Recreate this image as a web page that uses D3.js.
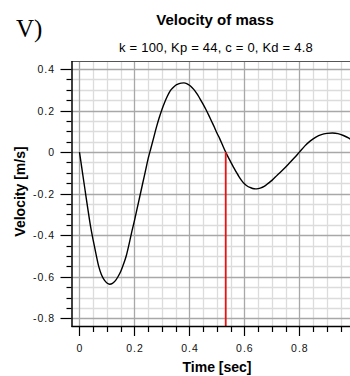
<!DOCTYPE html>
<html><head><meta charset="utf-8">
<script src="https://cdn.jsdelivr.net/npm/d3@7"></script>
<style>body{margin:0;background:#fff;} svg{display:block;}</style>
</head><body>
<script>
const timeSec = [0,0.01,0.02,0.03,0.04,0.05,0.06,0.07,0.08,0.09,0.10,0.11,0.12,0.13,0.14,0.15,0.16,0.17,0.18,0.19,0.20,0.21,0.22,0.23,0.24,0.25,0.26,0.27,0.28,0.29,0.30,0.31,0.32,0.33,0.34,0.35,0.36,0.37,0.38,0.39,0.40,0.41,0.42,0.43,0.44,0.45,0.46,0.47,0.48,0.49,0.50,0.51,0.52,0.53,0.54,0.55,0.56,0.57,0.58,0.59,0.60,0.61,0.62,0.63,0.64,0.65,0.66,0.67,0.68,0.69,0.70,0.72,0.74,0.76,0.78,0.80,0.82,0.84,0.86,0.88,0.90,0.92,0.94,0.96,0.98,1.00];
const velocity = [0,-0.09,-0.18,-0.27,-0.355,-0.425,-0.49,-0.55,-0.59,-0.615,-0.63,-0.636,-0.632,-0.62,-0.60,-0.575,-0.54,-0.50,-0.445,-0.385,-0.33,-0.27,-0.21,-0.15,-0.09,-0.03,0.02,0.07,0.12,0.165,0.205,0.24,0.27,0.295,0.31,0.322,0.328,0.332,0.333,0.33,0.322,0.31,0.295,0.275,0.253,0.23,0.205,0.178,0.15,0.122,0.092,0.065,0.035,0.005,-0.022,-0.047,-0.072,-0.095,-0.118,-0.137,-0.152,-0.163,-0.17,-0.175,-0.177,-0.176,-0.172,-0.166,-0.157,-0.147,-0.136,-0.11,-0.085,-0.058,-0.03,0.0,0.03,0.054,0.072,0.084,0.09,0.092,0.089,0.08,0.067,0.05];
const xTicks = [0,0.2,0.4,0.6,0.8];
const xTickLabels = ["0","0.2","0.4","0.6","0.8"];
const yTicks = [0.4,0.2,0,-0.2,-0.4,-0.6,-0.8];
const yTickLabels = ["0.4","0.2","0","-0.2","-0.4","-0.6","-0.8"];
const markerTime = [0.532];
const titleText = "Velocity of mass";
const subtitleText = "k = 100, Kp = 44, c = 0, Kd = 4.8";
const panelLabel = "V)";
const xLabel = "Time [sec]";
const yLabel = "Velocity [m/s]";

const W = 350, H = 376;
const L = 71.5, T = 61, R = 350, B = 326;
const svg = d3.select("body").append("svg").attr("width", W).attr("height", H);

const x = d3.scaleLinear().domain([-0.029, 0.984]).range([L, R]);
const y = d3.scaleLinear().domain([-0.837, 0.4385]).range([B, T]);

const font = "'Liberation Sans', Arial, sans-serif";

svg.append("clipPath").attr("id","plot").append("rect").attr("x",L).attr("y",T).attr("width",R-L).attr("height",B-T);

const grid = svg.append("g").attr("clip-path","url(#plot)");
const xMinor = d3.range(0, 1.0001, 0.05).map(v=>+v.toFixed(2));
const yMinor = d3.range(-0.8, 0.4001, 0.05).map(v=>+v.toFixed(2));
const isMajor = v => Math.abs(Math.round(v/0.2)*0.2 - v) < 1e-6;
grid.selectAll(".vx").data(xMinor.filter(v=>!isMajor(v))).join("line")
  .attr("x1",d=>Math.round(x(d))+0.5).attr("x2",d=>Math.round(x(d))+0.5).attr("y1",T).attr("y2",B)
  .attr("stroke","#dcdcdc").attr("stroke-width",1.3);
grid.selectAll(".hy").data(yMinor.filter(v=>!isMajor(v))).join("line")
  .attr("y1",d=>Math.round(y(d))+0.5).attr("y2",d=>Math.round(y(d))+0.5).attr("x1",L).attr("x2",R)
  .attr("stroke","#dcdcdc").attr("stroke-width",1.3);
grid.selectAll(".vX").data(xMinor.filter(isMajor)).join("line")
  .attr("x1",d=>Math.round(x(d))+0.5).attr("x2",d=>Math.round(x(d))+0.5).attr("y1",T).attr("y2",B)
  .attr("stroke","#a8a8a8").attr("stroke-width",1.3);
grid.selectAll(".hY").data(yMinor.filter(isMajor)).join("line")
  .attr("y1",d=>Math.round(y(d))+0.5).attr("y2",d=>Math.round(y(d))+0.5).attr("x1",L).attr("x2",R)
  .attr("stroke","#a8a8a8").attr("stroke-width",1.3);

svg.append("line").attr("x1",L).attr("x2",R).attr("y1",T+0.5).attr("y2",T+0.5).attr("stroke","#555").attr("stroke-width",1);

const pts = timeSec.map((t,i)=>[t, velocity[i]]);
grid.append("path").datum(pts)
  .attr("d", d3.line().x(d=>x(d[0])).y(d=>y(d[1])).curve(d3.curveMonotoneX))
  .attr("fill","none").attr("stroke","#000").attr("stroke-width",1.4);

grid.selectAll(".mk").data(markerTime).join("line")
  .attr("x1",d=>x(d)).attr("x2",d=>x(d)).attr("y1",y(0)).attr("y2",B)
  .attr("stroke","#ee1111").attr("stroke-width",1.8);

const xAxis = svg.append("g").attr("transform",`translate(0,${B})`);
xAxis.append("line").attr("x1",L).attr("x2",R).attr("y1",0.5).attr("y2",0.5).attr("stroke","#000").attr("stroke-width",1.5);
xAxis.selectAll(".xt").data(xMinor.filter(v=>x(v)<=R)).join("line")
  .attr("x1",d=>Math.round(x(d))+0.5).attr("x2",d=>Math.round(x(d))+0.5).attr("y1",0).attr("y2",d=>isMajor(d)?10:6)
  .attr("stroke","#000").attr("stroke-width",1.2);
xAxis.selectAll(".xl").data(xTicks).join("text")
  .attr("x",d=>x(d)+0.5).attr("y",25.5).attr("text-anchor","middle")
  .attr("font-family",font).attr("font-size",10.5).attr("letter-spacing",1).attr("fill","#111")
  .text((d,i)=>xTickLabels[i]);

const yAxis = svg.append("g").attr("transform",`translate(${L},0)`);
yAxis.append("line").attr("x1",0.5).attr("x2",0.5).attr("y1",T).attr("y2",B+1).attr("stroke","#000").attr("stroke-width",1.5);
yAxis.selectAll(".yt").data(yMinor).join("line")
  .attr("y1",d=>Math.round(y(d))+0.5).attr("y2",d=>Math.round(y(d))+0.5).attr("x1",0).attr("x2",d=>isMajor(d)?-11:-5)
  .attr("stroke","#000").attr("stroke-width",1.2);
yAxis.selectAll(".yl").data(yTicks).join("text")
  .attr("x",-16.5).attr("y",d=>y(d)+4).attr("text-anchor","end")
  .attr("font-family",font).attr("font-size",10.5).attr("letter-spacing",1).attr("fill","#111")
  .text((d,i)=>yTickLabels[i]);

svg.append("text").attr("x",217).attr("y",372).attr("text-anchor","middle")
  .attr("font-family",font).attr("font-size",14).attr("font-weight","bold").text(xLabel);
svg.append("text").attr("transform",`translate(25,${(145+238)/2}) rotate(-90)`).attr("text-anchor","middle")
  .attr("font-family",font).attr("font-size",14).attr("font-weight","bold").text(yLabel);
svg.append("text").attr("x",215).attr("y",25).attr("text-anchor","middle")
  .attr("font-family",font).attr("font-size",15).attr("font-weight","bold").text(titleText);
svg.append("text").attr("x",216).attr("y",52).attr("text-anchor","middle")
  .attr("font-family",font).attr("font-size",13).attr("letter-spacing",0.2).text(subtitleText);
svg.append("text").attr("x",16).attr("y",37).attr("font-family","'Liberation Serif', 'Times New Roman', serif")
  .attr("font-size",25).text(panelLabel);
</script>
</body></html>
